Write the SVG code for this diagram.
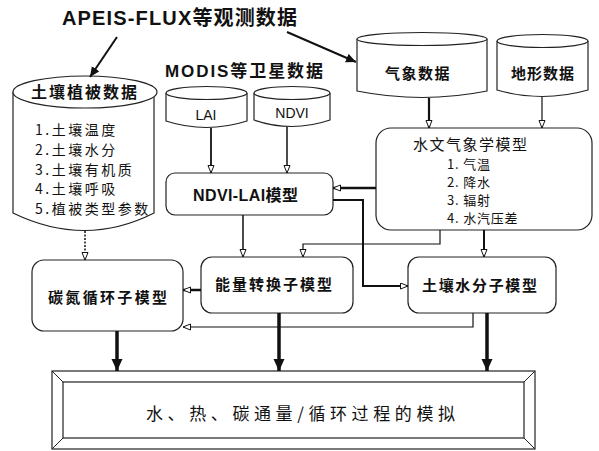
<svg xmlns="http://www.w3.org/2000/svg" width="599" height="451" viewBox="0 0 599 451">
  <defs>
    <style>
      .shape { fill: #ffffff; stroke: #222; stroke-width: 1.2; }
      .cjk { font-family: "Noto Sans CJK SC", "Liberation Sans", sans-serif; fill: #111; }
      .latin { font-family: "Liberation Sans", "Noto Sans CJK SC", sans-serif; fill: #111; }
      .b { font-weight: bold; }
      .conn { fill: none; stroke: #111; }
    </style>
    <marker id="open" markerUnits="userSpaceOnUse" markerWidth="10" markerHeight="8" refX="8" refY="3.5" orient="auto">
      <path d="M0.5,0.5 L8,3.5 L0.5,6.5 z" fill="#fff" stroke="#111" stroke-width="1"/>
    </marker>
    <marker id="solid" markerUnits="userSpaceOnUse" markerWidth="12" markerHeight="10" refX="10" refY="4.5" orient="auto">
      <path d="M0,0 L10,4.5 L0,9 z" fill="#111"/>
    </marker>
    <marker id="heavy" markerUnits="userSpaceOnUse" markerWidth="14" markerHeight="12" refX="12" refY="5.5" orient="auto">
      <path d="M0,0 L12,5.5 L0,11 z" fill="#111"/>
    </marker>
  </defs>

  <rect width="599" height="451" fill="#ffffff"/>

  <!-- headings -->
  <g id="flux-heading">
    <text class="latin b" x="62" y="25" font-size="20" textLength="235" lengthAdjust="spacing">APEIS-FLUX等观测数据</text>
  </g>
  <g id="modis-heading">
    <text class="latin b" x="165" y="77" font-size="17" textLength="158" lengthAdjust="spacing">MODIS等卫星数据</text>
  </g>

  <!-- soil / vegetation data store -->
  <g id="soil-veg-data">
    <path class="shape" d="M13,92 V213 Q85,248 154,213 V92"/>
    <ellipse class="shape" cx="85" cy="92" rx="72" ry="16"/>
    <text class="cjk b" x="85" y="98" font-size="16" text-anchor="middle" letter-spacing="2">土壤植被数据</text>
    <text class="cjk" font-size="14" letter-spacing="2.5">
      <tspan x="35" y="135">1.土壤温度</tspan>
      <tspan x="35" y="155">2.土壤水分</tspan>
      <tspan x="35" y="175">3.土壤有机质</tspan>
      <tspan x="35" y="194">4.土壤呼吸</tspan>
      <tspan x="35" y="214">5.植被类型参数</tspan>
    </text>
  </g>

  <!-- satellite stores -->
  <g id="lai-data">
    <path class="shape" d="M166,93 V121 Q206,134 247,121 V93"/>
    <ellipse class="shape" cx="206.5" cy="93" rx="40.5" ry="6.5"/>
    <text class="latin" x="206" y="120" font-size="14" text-anchor="middle">LAI</text>
  </g>
  <g id="ndvi-data">
    <path class="shape" d="M254,93 V120 Q292,133 330,120 V93"/>
    <ellipse class="shape" cx="292" cy="93" rx="38" ry="6.5"/>
    <text class="latin" x="292" y="118" font-size="14" text-anchor="middle">NDVI</text>
  </g>

  <!-- meteorological and terrain stores -->
  <g id="met-data">
    <path class="shape" d="M357,39 V91 Q422,104 487,91 V39"/>
    <ellipse class="shape" cx="422" cy="39" rx="65" ry="6.5"/>
    <text class="cjk b" x="418" y="79" font-size="15" text-anchor="middle" letter-spacing="1.5">气象数据</text>
  </g>
  <g id="terrain-data">
    <path class="shape" d="M497,41 V90 Q542.5,103 588,90 V41"/>
    <ellipse class="shape" cx="542.5" cy="41" rx="45.5" ry="6.5"/>
    <text class="cjk b" x="543" y="79" font-size="15" text-anchor="middle" letter-spacing="1">地形数据</text>
  </g>

  <!-- models -->
  <g id="ndvi-lai-model">
    <rect class="shape" x="166" y="173" width="167" height="42" rx="9"/>
    <text class="latin b" x="193" y="201" font-size="16" textLength="105" lengthAdjust="spacing">NDVI-LAI模型</text>
  </g>
  <g id="hydromet-model">
    <rect class="shape" x="376" y="128" width="216" height="102" rx="15"/>
    <text class="cjk" x="413" y="150" font-size="15" textLength="114" lengthAdjust="spacing">水文气象学模型</text>
    <text class="cjk" font-size="13" letter-spacing="0.8">
      <tspan x="447" y="169">1. 气温</tspan>
      <tspan x="447" y="187">2. 降水</tspan>
      <tspan x="447" y="205">3. 辐射</tspan>
      <tspan x="447" y="223">4. 水汽压差</tspan>
    </text>
  </g>
  <g id="energy-model">
    <rect class="shape" x="201" y="257" width="152" height="56" rx="11"/>
    <text class="cjk b" x="215" y="290" font-size="15" textLength="117" lengthAdjust="spacing">能量转换子模型</text>
  </g>
  <g id="soil-water-model">
    <rect class="shape" x="408" y="257" width="148" height="56" rx="11"/>
    <text class="cjk b" x="422" y="291" font-size="15" textLength="115" lengthAdjust="spacing">土壤水分子模型</text>
  </g>
  <g id="cn-cycle-model">
    <rect class="shape" x="32" y="260" width="151" height="71" rx="12"/>
    <text class="cjk b" x="48" y="303" font-size="15" textLength="119" lengthAdjust="spacing">碳氮循环子模型</text>
  </g>

  <!-- output frame -->
  <g id="flux-simulation">
    <rect x="52" y="371" width="483" height="78" fill="#fff" stroke="#222" stroke-width="1.2"/>
    <rect x="63" y="382" width="461" height="56" fill="none" stroke="#222" stroke-width="1.2"/>
    <path d="M52,371 L63,382 M535,371 L524,382 M52,449 L63,438 M535,449 L524,438" stroke="#222" stroke-width="1"/>
    <text class="cjk" x="146" y="420" font-size="17" textLength="309" lengthAdjust="spacing">水、热、碳通量/循环过程的模拟</text>
  </g>

  <!-- connectors -->
  <g id="connectors">
    <line class="conn" x1="117" y1="37" x2="90" y2="77" stroke-width="2" marker-end="url(#solid)"/>
    <line class="conn" x1="287" y1="32" x2="356" y2="62" stroke-width="2" marker-end="url(#solid)"/>
    <line class="conn" x1="211" y1="128" x2="211" y2="173" stroke-width="1.8" marker-end="url(#open)"/>
    <line class="conn" x1="287" y1="127" x2="287" y2="173" stroke-width="1.5" marker-end="url(#open)"/>
    <line class="conn" x1="429" y1="98" x2="429" y2="128" stroke-width="2.2" marker-end="url(#open)"/>
    <line class="conn" x1="542" y1="97" x2="542" y2="128" stroke-width="1.2" marker-end="url(#open)"/>
    <line class="conn" x1="376" y1="188" x2="333" y2="188" stroke-width="2.5" marker-end="url(#open)"/>
    <path class="conn" d="M333,200 H363 V286 H408" stroke-width="2" marker-end="url(#open)"/>
    <line class="conn" x1="243" y1="215" x2="243" y2="257" stroke-width="1.5" marker-end="url(#open)"/>
    <path class="conn" d="M440,230 V244 H303 V257" stroke-width="1.2" marker-end="url(#open)"/>
    <line class="conn" x1="484" y1="230" x2="484" y2="257" stroke-width="2" marker-end="url(#open)"/>
    <line class="conn" x1="85" y1="231" x2="85" y2="260" stroke-width="1.5" stroke-dasharray="2,1.5" marker-end="url(#open)"/>
    <line class="conn" x1="201" y1="290" x2="183" y2="290" stroke-width="2.5" marker-end="url(#open)"/>
    <path class="conn" d="M473,313 V327 H183" stroke-width="1.2" marker-end="url(#open)"/>
    <line class="conn" x1="117" y1="331" x2="117" y2="371" stroke-width="3.5" marker-end="url(#heavy)"/>
    <line class="conn" x1="279" y1="313" x2="279" y2="371" stroke-width="3.5" marker-end="url(#heavy)"/>
    <line class="conn" x1="487" y1="313" x2="487" y2="371" stroke-width="3.5" marker-end="url(#heavy)"/>
  </g>
</svg>
